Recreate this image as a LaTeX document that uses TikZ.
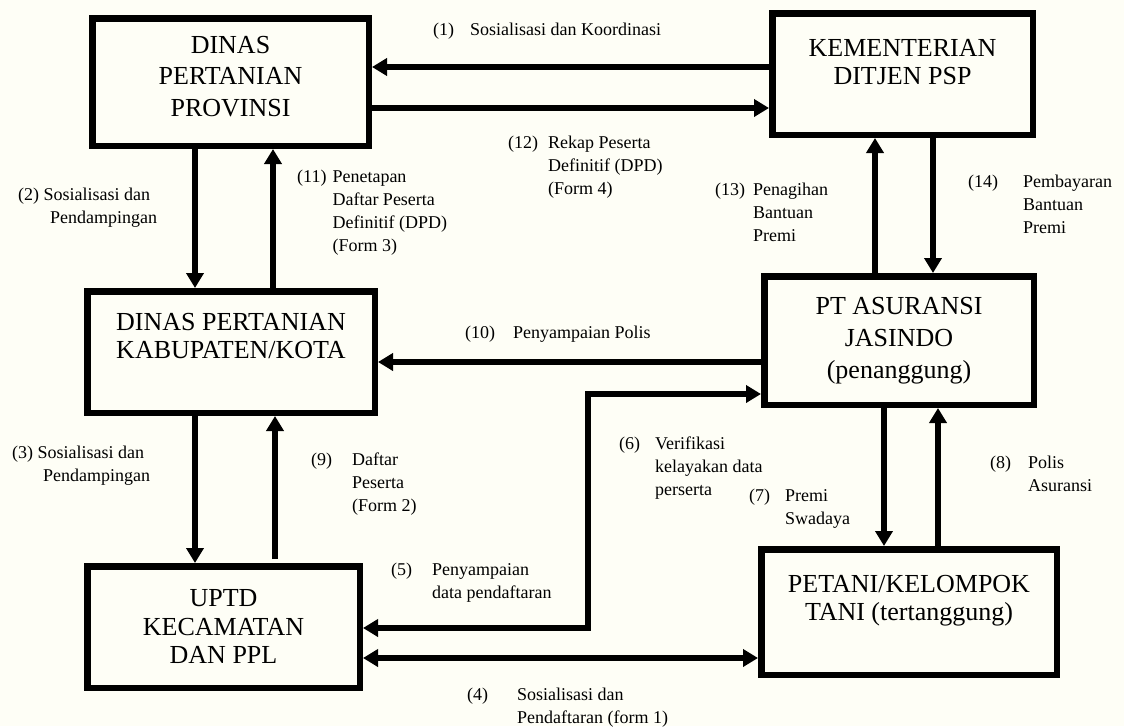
\documentclass[tikz,border=0pt]{standalone}
\usepackage{fontspec}
\setmainfont{Liberation Serif}
\usetikzlibrary{arrows.meta}
\definecolor{bgcol}{RGB}{254,254,246}
\newcommand{\lblt}[3]{\begin{tabular}[t]{@{}l@{\hspace{#2}}l@{}}#1 & #3\end{tabular}}
\begin{document}
\begin{tikzpicture}[x=1pt,y=-1pt,
  box/.style={draw, line width=6.5pt, rectangle, fill=bgcol, align=center,
    font=\fontsize{26}{30}\selectfont, inner sep=0pt},
  conn/.style={line width=6pt, -{Triangle[length=15pt,width=17pt]}},
  biconn/.style={line width=6pt, {Triangle[length=15pt,width=17pt]}-{Triangle[length=15pt,width=17pt]}},
  lbl/.style={anchor=base west, inner sep=0pt, font=\fontsize{18}{23}\selectfont}]
\useasboundingbox[fill=bgcol] (0,0) rectangle (1124,726);

% boxes
\node[box, minimum width=276.5pt, minimum height=127.5pt, font=\fontsize{26}{31.5}\selectfont] (prov) at (230.5,82) {DINAS\\PERTANIAN\\PROVINSI\\[-20pt]\mbox{}};
\node[box, minimum width=260.5pt, minimum height=121.5pt, font=\fontsize{26}{28}\selectfont] (kem) at (902.5,74) {KEMENTERIAN\\DITJEN PSP\\[-4pt]\mbox{}};
\node[box, minimum width=287.5pt, minimum height=121.5pt, font=\fontsize{26}{28}\selectfont] (kab) at (231,352) {DINAS PERTANIAN\\KABUPATEN/KOTA\\[4pt]\mbox{}};
\node[box, minimum width=269.5pt, minimum height=128.5pt, font=\fontsize{26}{32}\selectfont] (pt) at (899,340.5) {PT ASURANSI\\JASINDO\\(penanggung)\\[-26pt]\mbox{}};
\node[box, minimum width=272.5pt, minimum height=121.5pt, font=\fontsize{26}{28.5}\selectfont] (uptd) at (223.5,627) {UPTD\\KECAMATAN\\DAN PPL};
\node[box, minimum width=295.5pt, minimum height=125.5pt, font=\fontsize{26}{28}\selectfont] (pet) at (909,612) {PETANI/KELOMPOK\\TANI (tertanggung)\\[1pt]\mbox{}};

% connectors
\draw[conn] (kem.west |- 0,67) -- (prov.east |- 0,67);
\draw[conn] (prov.east |- 0,108) -- (kem.west |- 0,108);
\draw[conn] (prov.south -| 195,0) -- (kab.north -| 195,0);
\draw[conn] (kab.north -| 273,0) -- (prov.south -| 273,0);
\draw[conn] (pt.north -| 875,0) -- (kem.south -| 875,0);
\draw[conn] (kem.south -| 933,0) -- (pt.north -| 933,0);
\draw[conn] (pt.west |- 0,362) -- (kab.east |- 0,362);
\draw[conn] (kab.south -| 195,0) -- (uptd.north -| 195,0);
\draw[conn, shorten <=4pt] (uptd.north -| 275,0) -- (kab.south -| 275,0);
\coordinate (bend) at (588,394);
\draw[biconn] (uptd.east |- 0,628) -| (bend) -- (pt.west |- bend);
\draw[biconn] (uptd.east |- 0,658) -- (pet.west |- 0,658);
\draw[conn] (pt.south -| 884,0) -- (pet.north -| 884,0);
\draw[conn] (pet.north -| 938,0) -- (pt.south -| 938,0);

% labels
\node[lbl] (l1) at (433,35.5) {\lblt{(1)}{16pt}{Sosialisasi dan Koordinasi}};
\node[lbl] (l12) at (508,148.5) {\lblt{(12)}{10pt}{Rekap Peserta\\&Definitif (DPD)\\&(Form 4)}};
\node[lbl] (l11) at (297,182.5) {\lblt{(11)}{6pt}{Penetapan\\&Daftar Peserta\\&Definitif (DPD)\\&(Form 3)}};
\node[lbl] (l2) at (18,200.5) {\lblt{(2)}{4.5pt}{Sosialisasi dan\\&\hspace*{6.5pt}Pendampingan}};
\node[lbl] (l13) at (715,195.5) {\lblt{(13)}{8pt}{Penagihan\\&Bantuan\\&Premi}};
\node[lbl] (l14) at (968,187.5) {\lblt{(14)}{25pt}{Pembayaran\\&Bantuan\\&Premi}};
\node[lbl] (l10) at (465,338.5) {\lblt{(10)}{18pt}{Penyampaian Polis}};
\node[lbl] (l9) at (311,465.5) {\lblt{(9)}{20pt}{Daftar\\&Peserta\\&(Form 2)}};
\node[lbl] (l3) at (12,458.5) {\lblt{(3)}{4.5pt}{Sosialisasi dan\\&\hspace*{5.5pt}Pendampingan}};
\node[lbl] (l6) at (619,449.5) {\lblt{(6)}{15pt}{Verifikasi\\&kelayakan data\\&perserta}};
\node[lbl] (l5) at (391,575.5) {\lblt{(5)}{20pt}{Penyampaian\\&data pendaftaran}};
\node[lbl] (l7) at (749,501.5) {\lblt{(7)}{15pt}{Premi\\&Swadaya}};
\node[lbl] (l8) at (990,468.5) {\lblt{(8)}{17pt}{Polis\\&Asuransi}};
\node[lbl] (l4) at (467,700.5) {\lblt{(4)}{29pt}{Sosialisasi dan\\&Pendaftaran (form 1)}};
\end{tikzpicture}
\end{document}
